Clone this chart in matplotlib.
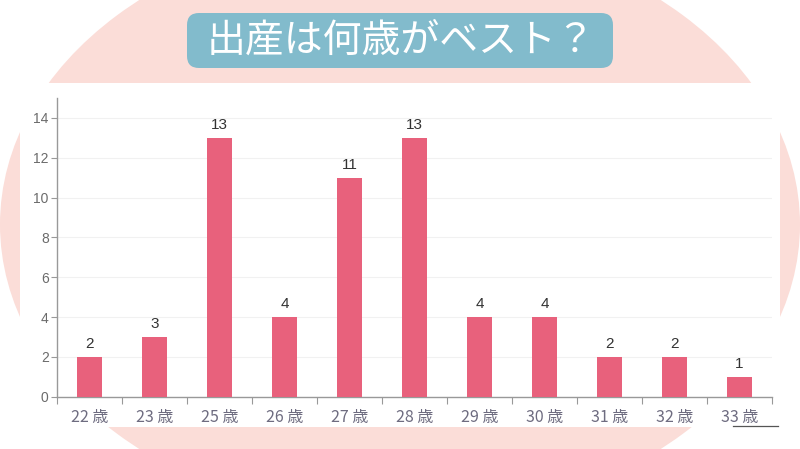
import matplotlib
matplotlib.use("Agg")
import matplotlib.pyplot as plt
from matplotlib.patches import Ellipse, Rectangle, FancyBboxPatch

plt.rcParams['font.family'] = ['Noto Sans CJK JP', 'DejaVu Sans']

ages = ["22 歳", "23 歳", "25 歳", "26 歳", "27 歳", "28 歳", "29 歳", "30 歳", "31 歳", "32 歳", "33 歳"]
counts = [2, 3, 13, 4, 11, 13, 4, 4, 2, 2, 1]
title = "出産は何歳がベスト？"

W, H = 800, 449
fig = plt.figure(figsize=(W / 100, H / 100), dpi=100)
fig.patch.set_facecolor("white")

# background: pink ellipse, white panel, title box (pixel coords)
bg = fig.add_axes([0, 0, 1, 1])
bg.set_xlim(0, W)
bg.set_ylim(H, 0)
bg.axis("off")
bg.add_patch(Ellipse((400, 224.5), 800, 592, color="#FBDDD8", lw=0))
bg.add_patch(Rectangle((20, 83), 760, 344, color="white", lw=0))
bg.add_patch(FancyBboxPatch((191, 17), 418, 47, boxstyle="round,pad=4,rounding_size=12",
                            color="#82BBCC", lw=0))
bg.text(401, 41, title, color="white", fontsize=28, ha="center", va="center")
bg.plot([733, 778], [426, 426], color="#555555", lw=0.9)

# chart
ax = fig.add_axes([57 / W, (H - 396.7) / H, (772 - 57) / W, (396.7 - 98) / H])
ax.patch.set_alpha(0)
x = list(range(len(ages)))
ax.bar(x, counts, width=0.385, color="#E8617C", zorder=3)
for xi, c in zip(x, counts):
    ax.text(xi, c + 0.28, str(c), ha="center", va="bottom", fontsize=11,
            color="#333333", family="Liberation Sans")

ax.set_xlim(-0.5, len(ages) - 0.5)
ax.set_ylim(0, 15)
ax.set_yticks(range(0, 15, 2))
ax.yaxis.grid(True, color="#F1F1F1", lw=0.8, zorder=0)
ax.set_xticks([i - 0.5 for i in range(len(ages) + 1)])
ax.set_xticklabels([])
ax.set_xticks(x, minor=True)
ax.set_xticklabels(ages, minor=True, fontsize=11.5, color="#6E6C80")
ax.tick_params(axis="x", which="minor", length=0, pad=9)
ax.tick_params(axis="x", which="major", length=5, color="#999999")
ax.tick_params(axis="y", length=4, color="#999999", labelcolor="#6B6B6B", labelsize=10, pad=2)
for lbl in ax.get_yticklabels():
    lbl.set_family("Liberation Sans")
for s in ["top", "right"]:
    ax.spines[s].set_visible(False)
for s in ["left", "bottom"]:
    ax.spines[s].set_color("#999999")
    ax.spines[s].set_linewidth(1)

fig.savefig("out.png", dpi=100)
